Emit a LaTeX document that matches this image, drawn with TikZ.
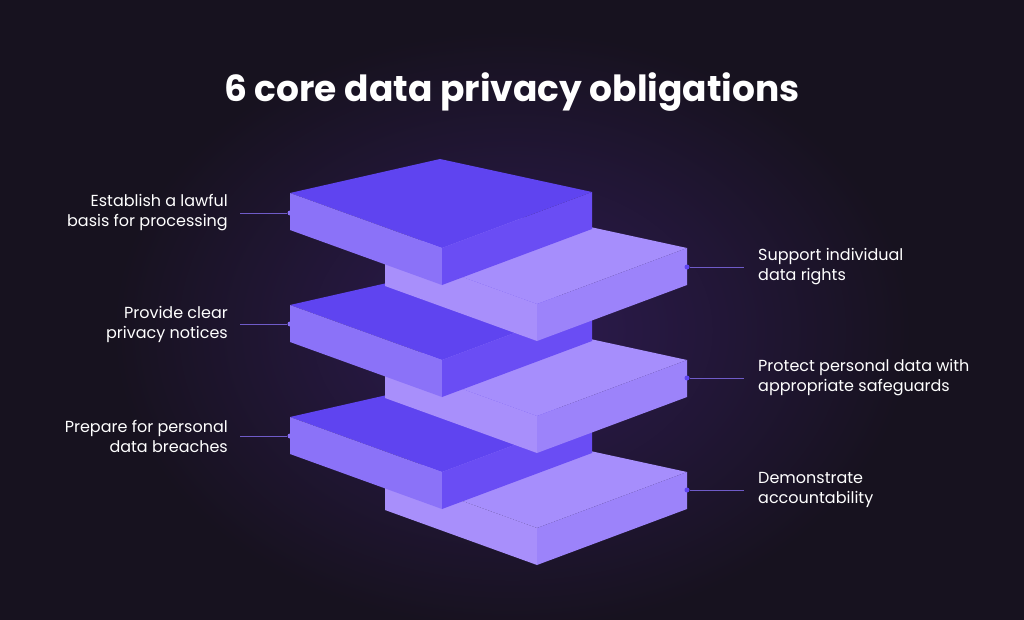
\documentclass[tikz,border=0pt]{standalone}
\usepackage{fontspec}
\setmainfont{Poppins}
\usetikzlibrary{positioning}
\definecolor{bgdark}{HTML}{17121F}
\definecolor{bgglow}{HTML}{2E1B52}
\definecolor{ltop}{HTML}{5F44F0}
\definecolor{lleft}{HTML}{8B72F8}
\definecolor{lright}{HTML}{6A4DF4}
\definecolor{rtop}{HTML}{A68EFC}
\definecolor{rleft}{HTML}{A88FFB}
\definecolor{rright}{HTML}{9C83FA}
\definecolor{leader}{HTML}{6F5BC8}
\tikzset{
  lbl/.style={text=white,font=\fontsize{16}{20}\selectfont,inner sep=0pt},
  dot/.style={circle,fill=#1,inner sep=0pt,minimum size=5pt},
  lead/.style={leader,line width=0.8pt}
}
% one slab, given its left top corner
\newcommand\slab[5]{%
  \fill[#3] (#1,#2) -- ++(150,-34) -- ++(152,33) -- ++(-150,56) -- cycle;
  \fill[#4] (#1,#2) -- ++(152,55) -- ++(0,37) -- ++(-152,-55) -- cycle;
  \fill[#5] (#1+152,#2+55) -- ++(150,-56) -- ++(0,37) -- ++(-150,56) -- cycle;
}
\begin{document}
\begin{tikzpicture}[x=1pt,y=-1pt]
  \useasboundingbox (0,0) rectangle (1024,620);
  \clip (0,0) rectangle (1024,620);
  \fill[bgdark] (0,0) rectangle (1024,620);
  \shade[inner color=bgglow,outer color=bgdark] (512,330) ellipse (400 and 300);
  \node[text=white,font=\fontsize{36}{42}\selectfont\bfseries] (title) at (512,92) {6 core data privacy obligations};
  % slabs, bottom first
  \slab{385}{473}{rtop}{rleft}{rright}
  \slab{290}{417}{ltop}{lleft}{lright}
  \slab{385}{361}{rtop}{rleft}{rright}
  \slab{290}{305}{ltop}{lleft}{lright}
  \slab{385}{249}{rtop}{rleft}{rright}
  \slab{290}{193}{ltop}{lleft}{lright}
  % left side
  \node[dot=lleft] (d1) at (290,213) {};
  \node[dot=lleft] (d3) at (290,324) {};
  \node[dot=lleft] (d5) at (290,436) {};
  \coordinate (e1) at (240,213);
  \coordinate (e3) at (240,324);
  \coordinate (e5) at (240,436);
  \node[lbl,left=12pt of e1,align=right] (t1) {Establish a lawful\\basis for processing};
  \node[lbl,left=12pt of e3,align=right] (t3) {Provide clear\\privacy notices};
  \node[lbl,left=12pt of e5,align=right] (t5) {Prepare for personal\\data breaches};
  % right side
  \node[dot=ltop] (d2) at (687,267) {};
  \node[dot=ltop] (d4) at (687,378) {};
  \node[dot=ltop] (d6) at (687,490) {};
  \coordinate (e2) at (744,267);
  \coordinate (e4) at (744,378);
  \coordinate (e6) at (744,490);
  \node[lbl,right=14pt of e2,align=left] (t2) {Support individual\\data rights};
  \node[lbl,right=14pt of e4,align=left] (t4) {Protect personal data with\\appropriate safeguards};
  \node[lbl,right=14pt of e6,align=left] (t6) {Demonstrate\\accountability};
  \foreach \i in {1,...,6}
    \draw[lead] (d\i) -- (e\i);
\end{tikzpicture}
\end{document}
